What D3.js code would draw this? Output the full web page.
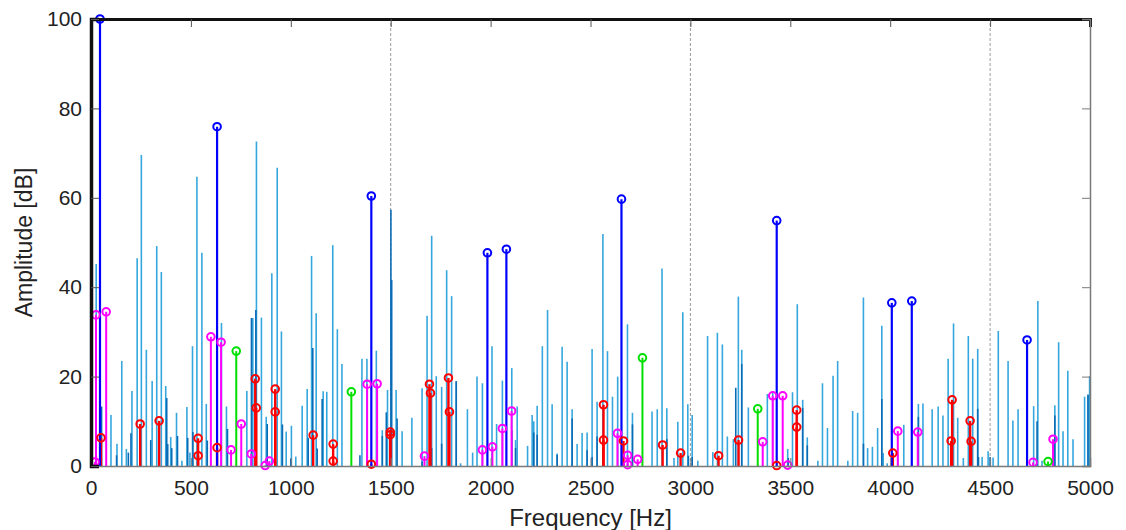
<!DOCTYPE html>
<html lang="en">
<head>
    <meta charset="utf-8" />
    <title>Spectrum</title>
    <script src="https://d3js.org/d3.v7.min.js"></script>
    <style>
        body { margin: 0; background: #fff; }
        text { font-family: "Liberation Sans", Arial, sans-serif; fill: #222; }
    </style>
</head>
<body>
    <div id="chart"></div>
    <script>
        // background spectrum (light blue stems)
        const lightFreq = [26, 100, 130, 154, 177, 205, 231, 252, 277, 306, 329, 352, 374, 399, 428, 455, 480, 495, 508, 530, 555, 577, 653, 678, 780, 810, 828, 853, 877, 905, 932, 953, 977, 1003, 1025, 1057, 1082, 1104, 1127, 1162, 1180, 1210, 1233, 1256, 1356, 1381, 1428, 1458, 1484, 1527, 1557, 1606, 1657, 1682, 1705, 1728, 1755, 1780, 1805, 1828, 1850, 1884, 1910, 1932, 1959, 2007, 2030, 2059, 2106, 2125, 2133, 2185, 2208, 2216, 2233, 2259, 2285, 2308, 2333, 2358, 2383, 2408, 2433, 2458, 2483, 2508, 2533, 2562, 2585, 2610, 2636, 2685, 2710, 2808, 2834, 2858, 2882, 2918, 2937, 2962, 2987, 3009, 3037, 3086, 3112, 3135, 3160, 3185, 3215, 3240, 3257, 3290, 3385, 3412, 3487, 3511, 3535, 3562, 3585, 3638, 3661, 3686, 3714, 3737, 3788, 3812, 3837, 3866, 3887, 3911, 3937, 3958, 3965, 3985, 4038, 4068, 4141, 4164, 4210, 4240, 4264, 4290, 4317, 4338, 4366, 4391, 4413, 4438, 4460, 4490, 4515, 4541, 4590, 4614, 4640, 4718, 4739, 4760, 4824, 4843, 4865, 4889, 4915, 4973, 4990, 4998];
        const lightAmp = [45.2, 11.4, 5, 23.5, 3.8, 16.8, 46.5, 69.6, 26.0, 19.0, 49.2, 43.4, 17.9, 6.5, 11.9, 1.2, 13.2, 3, 26.8, 64.7, 47.7, 13.9, 32.0, 13.3, 16.8, 33.1, 72.6, 33.2, 11.0, 43.1, 66.7, 30.1, 7.7, 9.0, 2.1, 13.5, 17.2, 47.0, 34.2, 16.7, 16.6, 49.4, 30.6, 22.8, 24.0, 24.0, 25.8, 8.0, 17.0, 17.0, 7.8, 10.8, 17.4, 33.6, 51.5, 20.1, 17.7, 43.8, 38.0, 18.8, 0.6, 12.7, 3.0, 20.0, 18.5, 26.8, 9.4, 19.1, 21.9, 5.8, 13.3, 4.5, 11.4, 10.0, 13.5, 26.8, 34.9, 13.8, 2.8, 26.7, 23.3, 12.7, 4.9, 7.4, 7.5, 26.2, 14.4, 51.9, 25.7, 15.5, 20.0, 31.7, 11.9, 12.2, 12.7, 44.2, 12.9, 1.8, 9.9, 34.4, 13.8, 11.4, 1.2, 29.1, 3.1, 29.8, 27.2, 6.6, 6.0, 37.9, 26.0, 13.1, 16.1, 16.5, 3.8, 16.5, 36.2, 14.8, 6.4, 1.2, 18.5, 8.5, 20.2, 23.5, 1.2, 12.3, 11.9, 37.7, 4.0, 4.3, 8.5, 31.4, 2.9, 0.6, 2.7, 9.2, 13.9, 14.0, 12.7, 13.3, 11.3, 24.0, 31.9, 10.8, 1.8, 29.1, 24.0, 26.2, 2.0, 3.3, 1.9, 30.2, 23.5, 10.2, 12.7, 13.4, 36.9, 1.2, 13.6, 27.7, 7.8, 21.3, 6.0, 15.5, 15.8, 20.1];

        // background spectrum (dark blue stems)
        const darkFreq = [53, 128, 187, 200, 299, 379, 384, 404, 433, 484, 510, 582, 683, 803, 825, 882, 958, 1000, 1087, 1110, 1132, 1157, 1346, 1458, 1478, 1501, 1505, 1532, 1657, 1705, 1755, 1828, 2106, 2125, 2216, 2233, 2333, 2408, 2483, 2508, 2533, 2562, 2710, 2882, 2990, 3009, 3227, 3257, 3490, 3562, 3585, 3866, 3958, 4141, 4438, 4442, 4500, 4735, 4824, 4990];
        const darkAmp = [13.3, 2.4, 3.0, 7.3, 5.8, 15.2, 4.9, 4.0, 6.7, 6.3, 7.6, 5.7, 8.3, 33.1, 34.9, 9.4, 9.3, 1.7, 6.3, 26.4, 3.9, 15.0, 2.4, 6.7, 12.0, 57.3, 41.6, 10.6, 1.0, 4.0, 5.0, 19.0, 8.0, 4.0, 7.5, 7.0, 2.5, 10.6, 3.5, 2.0, 6.6, 3.5, 9.3, 6.0, 2.3, 2.0, 17.5, 22.8, 1.8, 13.0, 4.6, 5.0, 15.0, 11.0, 12.8, 2.0, 2.0, 10.0, 11.3, 16.0];

        // marked components
        const blueFreq = [45, 631, 1403, 1984, 2079, 2655, 3432, 4008, 4108, 4685];
        const blueAmp = [100, 75.9, 60.4, 47.7, 48.5, 59.7, 54.9, 36.5, 36.9, 28.2];

        const magentaFreq = [20, 25, 76, 600, 651, 701, 752, 802, 872, 893, 1382, 1432, 1669, 1959, 2009, 2059, 2105, 2635, 2686, 2686, 2736, 3362, 3412, 3462, 3487, 4038, 4138, 4715, 4815];
        const magentaAmp = [0.9, 33.8, 34.5, 28.9, 27.7, 3.6, 9.4, 2.7, 0.1, 1.1, 18.3, 18.4, 2.2, 3.6, 4.3, 8.4, 12.3, 7.3, 2.4, 0.3, 1.5, 5.4, 15.7, 15.7, 0.2, 7.8, 7.6, 0.8, 6.0];

        const redFreq = [50, 246, 341, 536, 536, 631, 822, 827, 922, 922, 1112, 1212, 1212, 1403, 1498, 1498, 1694, 1699, 1789, 1794, 2565, 2565, 2665, 2861, 2951, 3141, 3241, 3432, 3532, 3532, 4013, 4310, 4305, 4400, 4405];
        const redAmp = [6.3, 9.4, 10.1, 6.2, 2.3, 4.1, 19.5, 13.0, 17.2, 12.1, 6.9, 4.9, 1.1, 0.4, 7.6, 7.0, 18.3, 16.3, 19.7, 12.1, 13.7, 5.8, 5.6, 4.7, 2.9, 2.3, 5.8, 0.1, 12.5, 8.7, 2.9, 14.8, 5.6, 10.1, 5.5];

        const greenFreq = [727, 1303, 2760, 3337, 4790];
        const greenAmp = [25.7, 16.6, 24.2, 12.8, 1.0];

        const xTicks = [0, 500, 1000, 1500, 2000, 2500, 3000, 3500, 4000, 4500, 5000];
        const yTicks = [0, 20, 40, 60, 80, 100];
        const gridFreq = [1500, 3000, 4500];

        const W = 1126, H = 530;
        const margin = { top: 19, right: 36, bottom: 64, left: 91 };

        const svg = d3.select("#chart").append("svg")
            .attr("width", W)
            .attr("height", H);

        const x = d3.scaleLinear().domain([0, 5000]).range([margin.left, W - margin.right]);
        const y = d3.scaleLinear().domain([0, 100]).range([H - margin.bottom, margin.top]);

        // dashed grid lines
        svg.append("g").selectAll("line")
            .data(gridFreq)
            .enter().append("line")
            .attr("x1", d => x(d)).attr("x2", d => x(d))
            .attr("y1", y(0)).attr("y2", y(100))
            .attr("stroke", "#9a9a9a")
            .attr("stroke-width", 1)
            .attr("stroke-dasharray", "3,2");

        function stems(freq, amp, color, width) {
            svg.append("g").selectAll("line")
                .data(freq.map((f, i) => [f, amp[i]]))
                .enter().append("line")
                .attr("x1", d => x(d[0])).attr("x2", d => x(d[0]))
                .attr("y1", y(0)).attr("y2", d => y(d[1]))
                .attr("stroke", color)
                .attr("stroke-width", width);
        }

        function markers(freq, amp, color) {
            svg.append("g").selectAll("circle")
                .data(freq.map((f, i) => [f, amp[i]]))
                .enter().append("circle")
                .attr("cx", d => x(d[0]))
                .attr("cy", d => y(d[1]))
                .attr("r", 3.8)
                .attr("fill", "none")
                .attr("stroke", color)
                .attr("stroke-width", 2);
        }

        stems(lightFreq, lightAmp, "#35a7de", 1.6);
        stems(darkFreq, darkAmp, "#0b6cb6", 1.6);

        stems(magentaFreq, magentaAmp, "#ff00ff", 2);
        stems(greenFreq, greenAmp, "#00e000", 2);
        stems(redFreq, redAmp, "#ff0000", 2.4);
        stems(blueFreq, blueAmp, "#0000ff", 2.2);

        markers(magentaFreq, magentaAmp, "#ff00ff");
        markers(greenFreq, greenAmp, "#00e000");
        markers(redFreq, redAmp, "#ff0000");
        markers(blueFreq, blueAmp, "#0000ff");

        // axes (ticks inside, MATLAB box style)
        const axBottom = svg.append("g")
            .attr("transform", `translate(0,${y(0)})`)
            .call(d3.axisBottom(x).tickValues(xTicks).tickSize(-8).tickPadding(14).tickFormat(d3.format("d")));
        axBottom.select(".domain").attr("stroke", "#7a7a7a").attr("stroke-width", 1.5);
        axBottom.selectAll(".tick line").attr("stroke", "#7a7a7a");

        const axTop = svg.append("g")
            .attr("transform", `translate(0,${y(100)})`)
            .call(d3.axisTop(x).tickValues(xTicks).tickSize(-8).tickFormat(""));
        axTop.select(".domain").attr("stroke", "#111").attr("stroke-width", 3);
        axTop.selectAll(".tick line").attr("stroke", "#555");

        const axRight = svg.append("g")
            .attr("transform", `translate(${x(5000)},0)`)
            .call(d3.axisRight(y).tickValues(yTicks).tickSize(-8).tickFormat(""));
        axRight.select(".domain").attr("stroke", "#7a7a7a").attr("stroke-width", 1.5);
        axRight.selectAll(".tick line").attr("stroke", "#7a7a7a");

        const axLeft = svg.append("g")
            .attr("transform", `translate(${x(0)},0)`)
            .call(d3.axisLeft(y).tickValues(yTicks).tickSize(-8).tickPadding(9));
        axLeft.select(".domain").attr("stroke", "#111").attr("stroke-width", 3.5);
        axLeft.selectAll(".tick line").attr("stroke", "#555");

        svg.selectAll(".tick text")
            .style("font-family", "'Liberation Sans', Arial, sans-serif")
            .style("font-size", "21px")
            .attr("fill", "#222");

        // axis labels
        svg.append("text")
            .attr("x", (x(0) + x(5000)) / 2)
            .attr("y", 526)
            .attr("text-anchor", "middle")
            .style("font-size", "24px")
            .text("Frequency [Hz]");

        svg.append("text")
            .attr("transform", `translate(32,${(y(0) + y(100)) / 2}) rotate(-90)`)
            .attr("text-anchor", "middle")
            .style("font-size", "23px")
            .text("Amplitude [dB]");
    </script>
</body>
</html>
